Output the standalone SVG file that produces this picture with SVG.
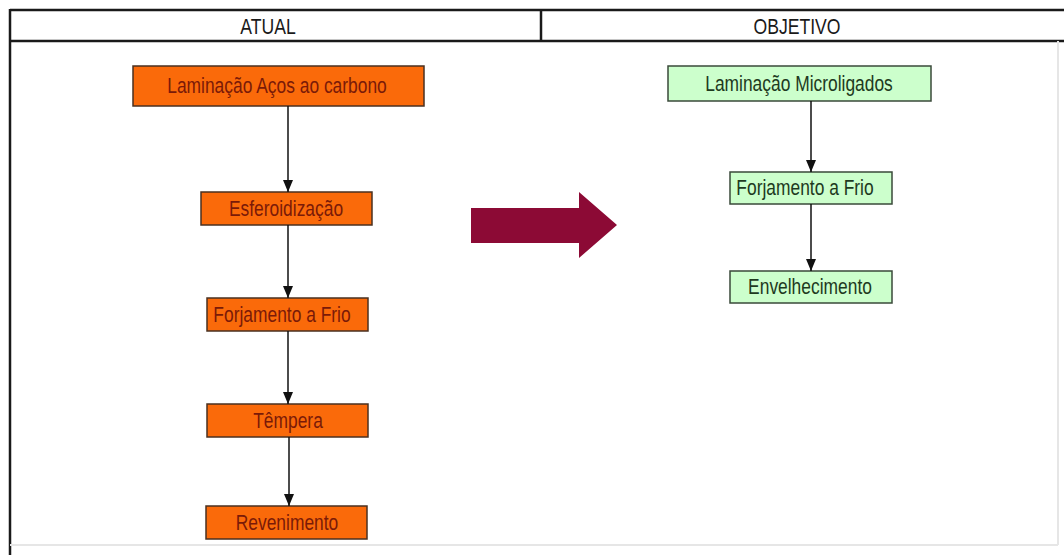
<svg xmlns="http://www.w3.org/2000/svg" width="1064" height="555" viewBox="0 0 1064 555">
<style>
.frame{stroke:#1a1a1a;stroke-width:2.5;fill:none}
.faint{stroke:#e6e6e6;stroke-width:2;fill:none}
text{font-family:"Liberation Sans",Arial,sans-serif;font-size:20px;text-anchor:middle}
.hdr{fill:#1a1a1a}
.org rect{fill:#fa6a0a;stroke:#4a3020;stroke-width:1.5}
.grn rect{fill:#ccffcc;stroke:#3a4a3a;stroke-width:1.5}
.org text{fill:#7a1a08}
.grn text{fill:#1e3a1e}
.conn line{stroke:#111;stroke-width:1.5;marker-end:url(#ah)}
</style>
<defs>
<marker id="ah" viewBox="0 0 12 10" refX="12" refY="5" markerWidth="12" markerHeight="10" markerUnits="userSpaceOnUse" orient="auto">
<path d="M0,0 L12,5 L0,10 Z" fill="#111"/>
</marker>
</defs>
<rect width="1064" height="555" fill="#ffffff"/>
<g id="frame">
<line class="frame" x1="10" y1="10" x2="1064" y2="10"/>
<line class="frame" x1="10" y1="41" x2="1064" y2="41"/>
<line class="frame" x1="10" y1="9" x2="10" y2="555"/>
<line class="frame" x1="541" y1="10" x2="541" y2="41"/>
<line class="faint" x1="10" y1="545" x2="1058" y2="545"/>
<line class="faint" x1="1058" y1="41" x2="1058" y2="545"/>
<text class="hdr" transform="translate(268 34) scale(0.88 1.12)">ATUAL</text>
<text class="hdr" transform="translate(797 34) scale(0.88 1.12)">OBJETIVO</text>
</g>
<g id="n1" class="org"><rect x="133" y="66" width="291" height="40"/><text transform="translate(277 93) scale(0.87 1.08)">Laminação Aços ao carbono</text></g>
<g id="n2" class="org"><rect x="201" y="192" width="171" height="33"/><text transform="translate(286 216) scale(0.87 1.08)">Esferoidização</text></g>
<g id="n3" class="org"><rect x="207" y="298" width="161" height="33"/><text transform="translate(282 322) scale(0.87 1.08)">Forjamento a Frio</text></g>
<g id="n4" class="org"><rect x="207" y="404" width="161" height="33"/><text transform="translate(288 428) scale(0.87 1.08)">Têmpera</text></g>
<g id="n5" class="org"><rect x="206" y="506" width="161" height="33"/><text transform="translate(287 530) scale(0.87 1.08)">Revenimento</text></g>
<g id="m1" class="grn"><rect x="668" y="66" width="263" height="35"/><text transform="translate(799 91) scale(0.87 1.08)">Laminação Microligados</text></g>
<g id="m2" class="grn"><rect x="730" y="172" width="162" height="32"/><text transform="translate(805 195) scale(0.87 1.08)">Forjamento a Frio</text></g>
<g id="m3" class="grn"><rect x="730" y="271" width="162" height="32"/><text transform="translate(810 294) scale(0.87 1.08)">Envelhecimento</text></g>
<g id="bigarrow"><path d="M471,208 L579,208 L579,192 L617,225 L579,258 L579,243 L471,243 Z" fill="#8c0a35"/></g>
<g id="connectors" class="conn">
<line x1="288" y1="106" x2="288" y2="192"/>
<line x1="288" y1="225" x2="288" y2="298"/>
<line x1="288" y1="331" x2="288" y2="404"/>
<line x1="289" y1="437" x2="289" y2="506"/>
<line x1="811" y1="101" x2="811" y2="172"/>
<line x1="811" y1="204" x2="811" y2="271"/>
</g>
</svg>
